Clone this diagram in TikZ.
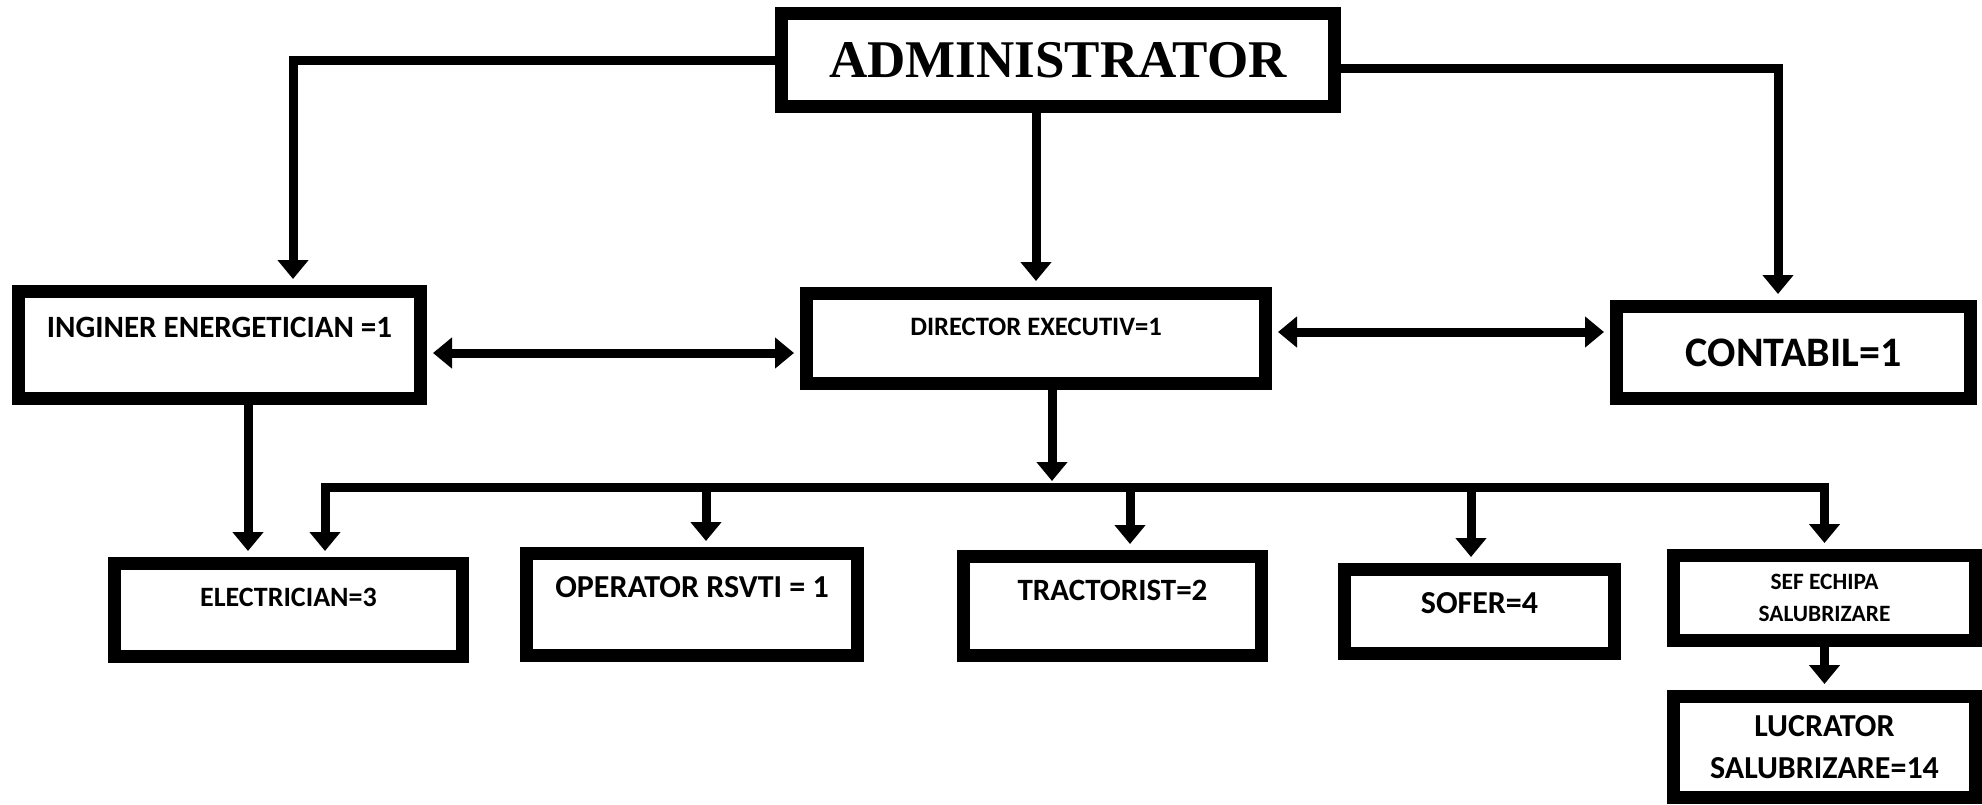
\documentclass[tikz,border=0pt]{standalone}
\usepackage{fontspec}
\setmainfont{Carlito}
\newfontfamily\serifbold{Liberation Serif}
\usepackage{tikz}
\usetikzlibrary{arrows.meta,calc}
\newcommand{\fs}[1]{\bfseries\fontsize{#1}{1.3\dimexpr #1pt\relax}\selectfont}

\begin{document}
\begin{tikzpicture}[x=0.5pt,y=-0.5pt,
  box/.style={draw,line width=6.5pt,inner sep=0pt,align=center},
  link/.style={line width=4.5pt,-{Triangle[length=9.5pt,width=15pt]},shorten >=3pt},
  twoway/.style={link,{Triangle[length=9.5pt,width=15pt]}-{Triangle[length=9.5pt,width=15pt]},shorten <=3pt},
  hv/.style={to path={-| (\tikztotarget)}}]
  \useasboundingbox (0,0) rectangle (1982,804);
  \fill[white] (0,0) rectangle (1982,804);

  \node[box,minimum width=276.5pt,minimum height=46.5pt,font=\serifbold\fs{26.5}] (admin) at (1058,60) {ADMINISTRATOR};
  \node[box,minimum width=201pt,minimum height=53.5pt,text depth=18pt,font=\fs{15.5}] (ing) at (219.5,345) {INGINER ENERGETICIAN =1};
  \node[box,minimum width=229.5pt,minimum height=45pt,text depth=11.5pt,font=\fs{13.3}] (dir) at (1036,338.5) {DIRECTOR EXECUTIV=1};
  \node[box,minimum width=177pt,minimum height=46pt,font=\fs{21}] (cont) at (1793.5,352.5) {CONTABIL=1};
  \node[box,minimum width=174pt,minimum height=46.5pt,text depth=13pt,font=\fs{14}] (elec) at (288.5,610) {ELECTRICIAN=3};
  \node[box,minimum width=165.5pt,minimum height=51pt,text depth=17.5pt,font=\fs{16}] (oper) at (692,604.5) {OPERATOR RSVTI = 1};
  \node[box,minimum width=149pt,minimum height=49.5pt,text depth=16pt,font=\fs{15.5}] (tract) at (1112.5,606) {TRACTORIST=2};
  \node[box,minimum width=135pt,minimum height=42pt,text depth=8.5pt,font=\fs{16}] (sofer) at (1479.5,611.5) {SOFER=4};
  \node[box,minimum width=151pt,minimum height=42.5pt,font=\bfseries\fontsize{11.7}{16}\selectfont] (sef) at (1824.5,598) {SEF ECHIPA\\SALUBRIZARE};
  \node[box,minimum width=151pt,minimum height=50.5pt,font=\bfseries\fontsize{16}{21}\selectfont] (lucr) at (1824.5,747) {LUCRATOR\\SALUBRIZARE=14};
  \coordinate (bus) at (1052,487);

  \path[link]
    (admin.west) edge[hv] ($(ing.north)+(73.5,0)$)
    ($(admin.east)+(0,8)$) edge[hv] ($(cont.north)+(-15.5,0)$)
    (admin.south -| dir.north) edge (dir.north)
    ($(dir.south)+(16,0)$) edge (bus)
    ($(ing.south)+(28.5,0)$) edge ($(ing.south |- elec.north)+(28.5,0)$)
    ($(oper.north |- bus)+(14,0)$) edge ($(oper.north)+(14,0)$)
    ($(tract.north |- bus)+(17.5,0)$) edge ($(tract.north)+(17.5,0)$)
    ($(sofer.north |- bus)+(-8.5,0)$) edge ($(sofer.north)+(-8.5,0)$)
    (sef.south) edge (lucr.north);

  \path[twoway]
    ($(ing.east)+(0,8)$) edge ($(dir.west |- ing.east)+(0,8)$)
    ($(dir.east)+(0,-6.5)$) edge ($(cont.west |- dir.east)+(0,-6.5)$);

  \draw[twoway] ($(elec.north)+(36.5,0)$) |- (bus) -| (sef.north);
\end{tikzpicture}
\end{document}
